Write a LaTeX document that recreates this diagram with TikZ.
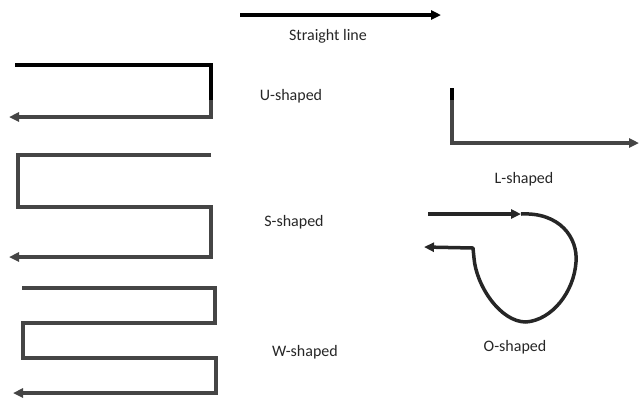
\documentclass[tikz,border=0pt]{standalone}
\usepackage{fontspec}
\setmainfont{Carlito}
\usetikzlibrary{arrows.meta}
\definecolor{pathgray}{HTML}{454545}
\definecolor{labelgray}{HTML}{262626}
\tikzset{
  route/.style={draw=pathgray, line width=4pt, line join=miter},
  heavy/.style={draw=black, line width=4.5pt},
  tip/.style={-{Triangle[length=10pt,width=9pt]}},
  lbl/.style={font=\fontsize{16}{18}\selectfont, text=labelgray, inner sep=0pt}
}
\begin{document}
\begin{tikzpicture}[x=1pt,y=-1pt]
\useasboundingbox (0,0) rectangle (639,400);

% straight line
\coordinate (s0) at (240,15);
\coordinate (s1) at (441,15);
\draw[heavy, line width=4pt, tip] (s0) -- (s1);
\node[lbl] (tstraight) at (328,36) {Straight line};

% U-shaped path
\coordinate (u0) at (15,65);
\coordinate (u1) at (211,65);
\coordinate (u2) at (211,100);
\coordinate (u3) at (211,117);
\coordinate (u4) at (9,117);
\draw[route, line width=3.5pt, tip] (u2) -- (u3) -- (u4);
\draw[heavy] (u0) -- (u1) -- (u2);
\node[lbl] (tu) at (291,96) {U-shaped};

% S-shaped path
\coordinate (sa) at (211,155);
\coordinate (sb) at (18,155);
\coordinate (sc) at (18,207);
\coordinate (sd) at (211,207);
\coordinate (se) at (211,257);
\coordinate (sf) at (9,257);
\draw[route, tip] (sa) -- (sb) -- (sc) -- (sd) -- (se) -- (sf);
\node[lbl] (ts) at (294,222) {S-shaped};

% W-shaped path
\coordinate (wa) at (22,288);
\coordinate (wb) at (215,288);
\coordinate (wc) at (215,323);
\coordinate (wd) at (23,323);
\coordinate (we) at (23,358);
\coordinate (wf) at (216,358);
\coordinate (wg) at (216,393);
\coordinate (wh) at (13,393);
\draw[route, line width=3.5pt, tip] (wa) -- (wb) -- (wc) -- (wd) -- (we) -- (wf) -- (wg) -- (wh);
\node[lbl] (tw) at (305,352) {W-shaped};

% L-shaped path
\coordinate (la) at (452,88);
\coordinate (lb) at (452,100);
\coordinate (lc) at (452,143);
\coordinate (ld) at (639,143);
\draw[route, tip] (lb) -- (lc) -- (ld);
\draw[heavy, line width=4pt] (la) -- (lb);
\node[lbl] (tl) at (524,179) {L-shaped};

% O-shaped path
\coordinate (oa) at (428,214);
\coordinate (ob) at (521,214);
\coordinate (oc) at (473,248);
\coordinate (od) at (424,247);
\draw[draw=black!85, line width=3.5pt, tip] (oa) -- (ob);
\draw[draw=black!85, line width=3.5pt, line join=round, tip]
  (ob) .. controls (560,212) and (578,238) .. (576,262)
       .. controls (574,292) and (552,320) .. (526,322)
       .. controls (500,322) and (476,285) .. (474,258)
       -- (oc) -- (od);
\node[lbl] (to) at (515,347) {O-shaped};
\end{tikzpicture}
\end{document}
